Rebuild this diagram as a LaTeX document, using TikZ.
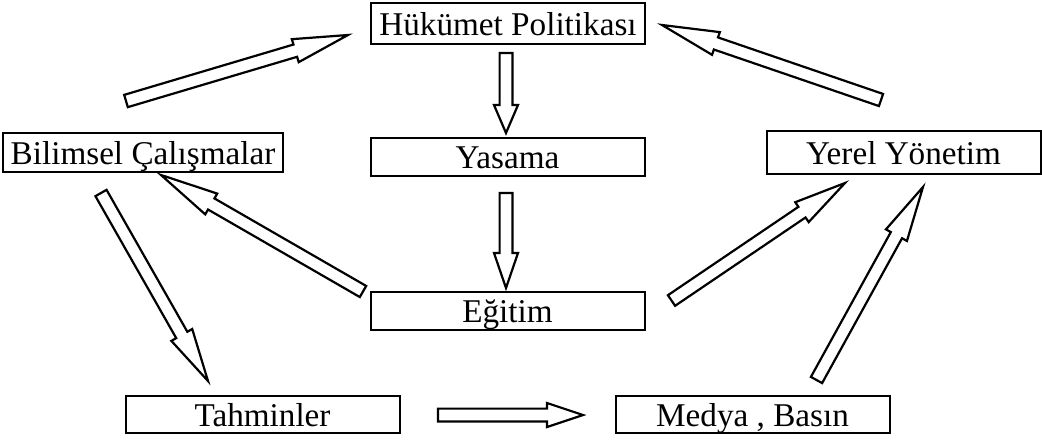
\documentclass[tikz,border=0pt]{standalone}
\usepackage{fontspec}
\setmainfont{Liberation Serif}
\usetikzlibrary{calc}

% hollow block arrow: [head length]{tail}{tip}
\newcommand{\blockarrow}[3][27.5pt]{%
  \coordinate (hb) at ($(#3)!#1!(#2)$);
  \draw[blockline] ($(#2)!3.2pt!90:(#3)$) -- ($(hb)!3.2pt!90:(#3)$) -- ($(hb)!6pt!90:(#3)$) -- (#3)
    -- ($(hb)!6pt!-90:(#3)$) -- ($(hb)!3.2pt!-90:(#3)$) -- ($(#2)!3.2pt!-90:(#3)$) -- cycle;
}

\begin{document}
\begin{tikzpicture}[x=0.5pt, y=-0.5pt,
  box/.style={draw, line width=1pt, inner sep=0pt, minimum width=137pt, minimum height=19pt,
    text height=13.5pt, text depth=1.5pt, font=\fontsize{16.6}{20}\selectfont},
  blockline/.style={draw, fill=white, line width=1.1pt, line join=miter}]
  \useasboundingbox (0,0) rectangle (1042,439);

  % boxes
  \node[box, minimum height=20.5pt] (hp) at (508,23.5) {Hükümet Politikası};
  \node[box] (yas) at (507.5,156.5) {Yasama};
  \node[box] (egt) at (507.5,310.5) {Eğitim};
  \node[box, minimum width=140pt, minimum height=19.5pt] (bil) at (143,152.5) {Bilimsel Çalışmalar};
  \node[box, minimum height=21.5pt] (yy) at (903.5,152.5) {Yerel Yönetim};
  \node[box, minimum height=18.5pt] (tah) at (262.5,414.5) {Tahminler};
  \node[box, minimum height=18.5pt] (med) at (752.5,414.5) {Medya , Basın};

  % arrow ends
  \coordinate (bil-a) at (126,101);   \coordinate (hp-a) at (348,35);
  \coordinate (yy-b) at (881,100);    \coordinate (hp-b) at (662,25);
  \coordinate (bil-b) at (101,193);   \coordinate (tah-a) at (208,381);
  \coordinate (egt-a) at (363,291.5); \coordinate (bil-c) at (161,175);
  \coordinate (egt-b) at (671.5,300.5); \coordinate (yy-a) at (845,183);
  \coordinate (med-a) at (816.5,380); \coordinate (yy-c) at (923,187);
  \coordinate (hp-c) at (506,53);     \coordinate (yas-a) at (506,133);
  \coordinate (yas-b) at (506,193);   \coordinate (egt-c) at (506,288);
  \coordinate (tah-b) at (438,415);   \coordinate (med-b) at (583,415);

  % arrows
  \blockarrow{bil-a}{hp-a}
  \blockarrow[28.5pt]{yy-b}{hp-b}
  \blockarrow[26.5pt]{bil-b}{tah-a}
  \blockarrow[29pt]{egt-a}{bil-c}
  \blockarrow[26pt]{egt-b}{yy-a}
  \blockarrow[27.5pt]{med-a}{yy-c}
  \blockarrow[14pt]{hp-c}{yas-a}
  \blockarrow[17.5pt]{yas-b}{egt-c}
  \blockarrow[18pt]{tah-b}{med-b}
\end{tikzpicture}
\end{document}
